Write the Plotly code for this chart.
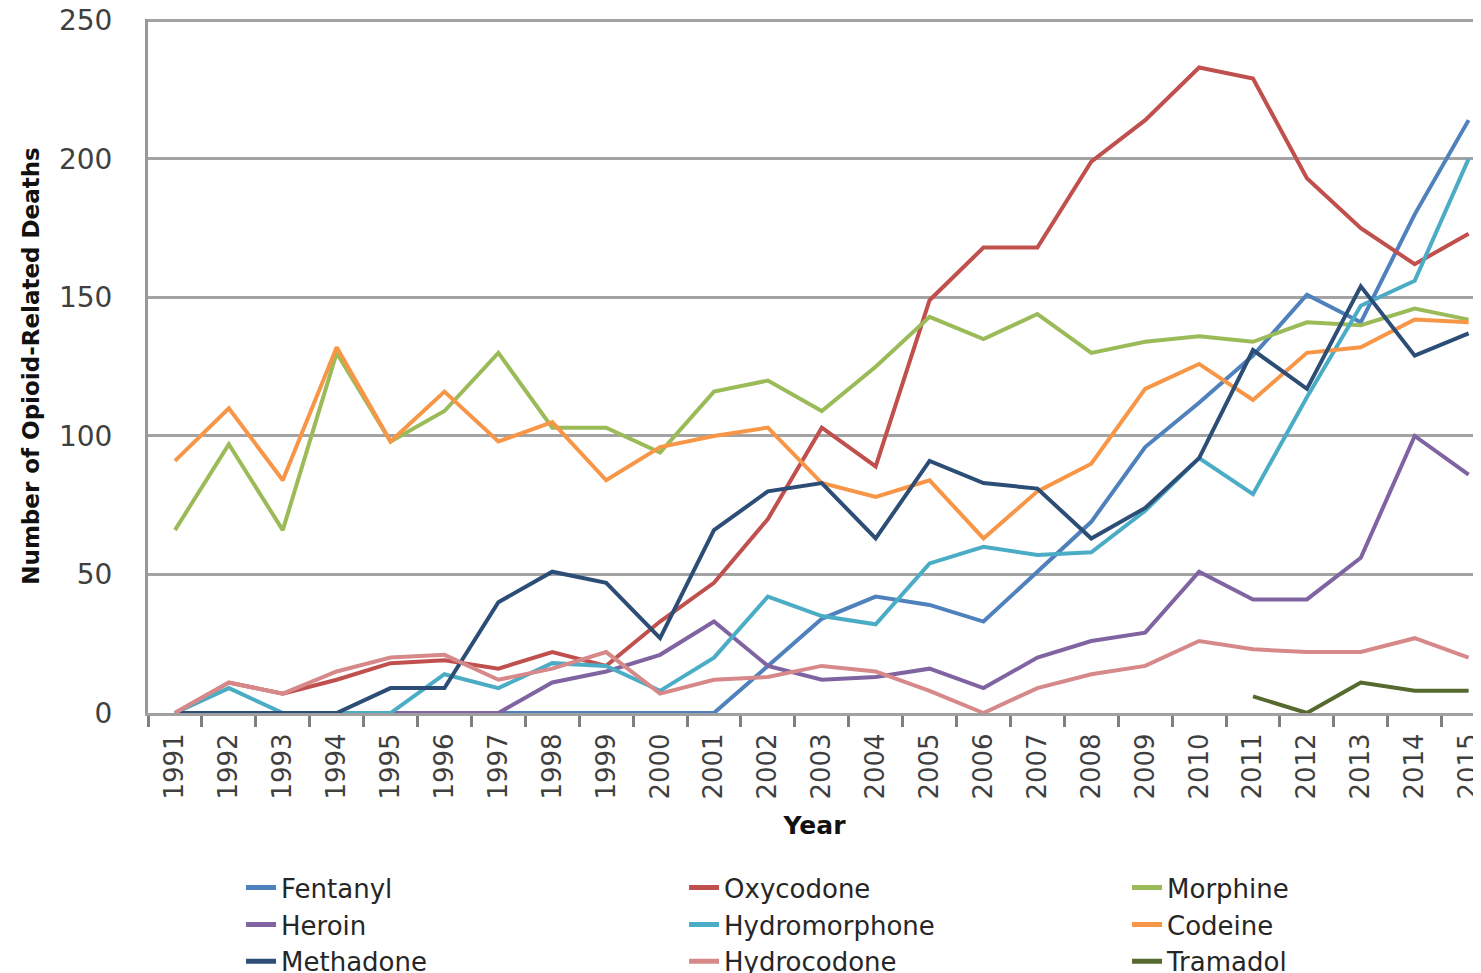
import plotly.graph_objects as go

years = [str(y) for y in range(1991, 2016)]

fentanyl = [0, 0, 0, 0, 0, 0, 0, 0, 0, 0, 0, 17, 34, 42, 39, 33, 51, 69, 96, 112, 129, 151, 141, 180, 214]
oxycodone = [0, 11, 7, 12, 18, 19, 16, 22, 17, 33, 47, 70, 103, 89, 149, 168, 168, 199, 214, 233, 229, 193, 175, 162, 173]
morphine = [66, 97, 66, 130, 98, 109, 130, 103, 103, 94, 116, 120, 109, 125, 143, 135, 144, 130, 134, 136, 134, 141, 140, 146, 142]
heroin = [0, 0, 0, 0, 0, 0, 0, 11, 15, 21, 33, 17, 12, 13, 16, 9, 20, 26, 29, 51, 41, 41, 56, 100, 86]
hydromorphone = [0, 9, 0, 0, 0, 14, 9, 18, 17, 8, 20, 42, 35, 32, 54, 60, 57, 58, 73, 92, 79, 114, 147, 156, 200]
codeine = [91, 110, 84, 132, 98, 116, 98, 105, 84, 96, 100, 103, 83, 78, 84, 63, 80, 90, 117, 126, 113, 130, 132, 142, 141]
methadone = [0, 0, 0, 0, 9, 9, 40, 51, 47, 27, 66, 80, 83, 63, 91, 83, 81, 63, 74, 92, 131, 117, 154, 129, 137]
hydrocodone = [0, 11, 7, 15, 20, 21, 12, 16, 22, 7, 12, 13, 17, 15, 8, 0, 9, 14, 17, 26, 23, 22, 22, 27, 20]
tramadol = [None] * 20 + [6, 0, 11, 8, 8]

series = [
    ("Fentanyl", fentanyl, "#4F81BD"),
    ("Oxycodone", oxycodone, "#C0504D"),
    ("Morphine", morphine, "#9BBB59"),
    ("Heroin", heroin, "#8064A2"),
    ("Hydromorphone", hydromorphone, "#4BACC6"),
    ("Codeine", codeine, "#F79646"),
    ("Methadone", methadone, "#2C4D75"),
    ("Hydrocodone", hydrocodone, "#D7898A"),
    ("Tramadol", tramadol, "#56692F"),
]

FONT = "DejaVu Sans"

fig = go.Figure()
for name, vals, color in series:
    fig.add_trace(go.Scatter(
        x=years, y=vals, name=name, mode="lines",
        line=dict(color=color, width=4),
        connectgaps=False,
    ))

# page body has an 8px margin, so the figure is sized to fill the rest of the window
fig.update_layout(
    width=1473, height=965,
    margin=dict(l=140, r=0, t=11, b=260, autoexpand=False),
    paper_bgcolor="white", plot_bgcolor="white",
    font=dict(family=FONT, color="#404040", size=26),
    showlegend=True,
    legend=dict(
        orientation="h", x=0.0698, xanchor="left", y=-0.2179, yanchor="top",
        entrywidth=398, entrywidthmode="pixels",
        font=dict(family=FONT, size=26, color="#262626"),
        traceorder="normal", itemsizing="constant",
        bgcolor="rgba(0,0,0,0)",
    ),
    xaxis=dict(
        type="category", range=[-0.5, 24.23], automargin=False,
        tickangle=-90, tickson="boundaries",
        ticks="outside", ticklen=11, tickwidth=3, tickcolor="#7F7F7F",
        ticklabelstandoff=7,
        showgrid=False, showline=True, linecolor="#A0A0A0", linewidth=3,
        tickfont=dict(family=FONT, size=26, color="#3F3F3F"),
        title=dict(text="<b>Year</b>", font=dict(family=FONT, size=25, color="#111111"), standoff=18),
        zeroline=False,
    ),
    yaxis=dict(
        range=[0, 250.5], dtick=50, tick0=0, automargin=False,
        showgrid=True, gridcolor="#A3A3A3", gridwidth=3,
        showline=True, linecolor="#999999", linewidth=3,
        ticks="", ticklabelstandoff=27, ticklabeloverflow="allow",
        tickfont=dict(family=FONT, size=28, color="#3F3F3F"),
        title=dict(text="<b>Number of Opioid-Related Deaths</b>", font=dict(family=FONT, size=23, color="#111111"), standoff=13),
        zeroline=False,
    ),
)

fig.write_html("out.html")
